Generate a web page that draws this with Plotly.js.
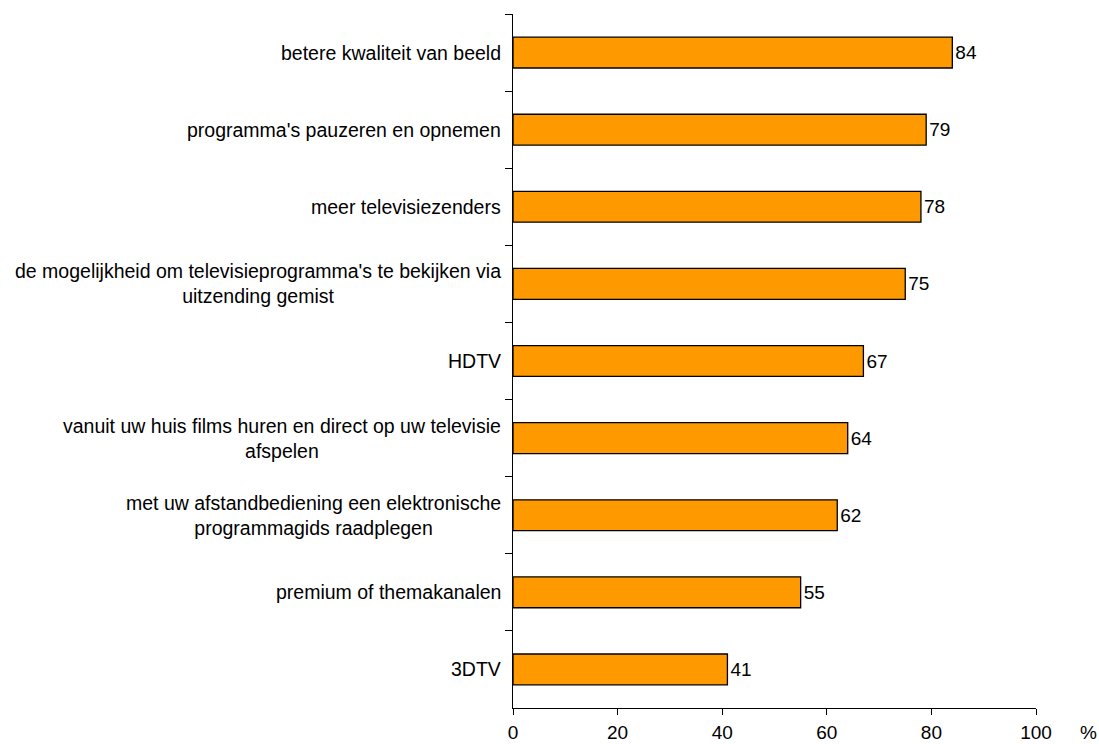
<!DOCTYPE html>
<html><head><meta charset="utf-8">
<script src="https://cdn.plot.ly/plotly-3.0.1.min.js"></script>
<style>html,body{margin:0;padding:0;background:#fff;}#chart{width:1099px;height:744px;}</style>
</head><body><div id="chart"></div>
<script>
const categories = [
  "betere kwaliteit van beeld",
  "programma's pauzeren en opnemen",
  "meer televisiezenders",
  "de mogelijkheid om televisieprogramma's te bekijken via<br>uitzending gemist",
  "HDTV",
  "vanuit uw huis films huren en direct op uw televisie<br>afspelen",
  "met uw afstandbediening een elektronische<br>programmagids raadplegen",
  "premium of themakanalen",
  "3DTV"
];
const values = [84, 79, 78, 75, 67, 64, 62, 55, 41];
const xTicks = [0, 20, 40, 60, 80, 100];

const font = "Liberation Sans, Arial, sans-serif";
const trace = {
  type: 'bar', orientation: 'h',
  x: values, y: categories,
  width: 0.4,
  marker: {color: '#FF9900', line: {color: '#000', width: 1.3}},
  text: values.map(String), textposition: 'outside', constraintext: 'none',
  textfont: {family: font, size: 19, color: '#000'},
  cliponaxis: false, hoverinfo: 'none'
};
const annotations = categories.map(c => ({
  x: 0, xref: 'x', y: c, yref: 'y', text: c, showarrow: false,
  xanchor: 'right', yanchor: 'middle', align: 'center', xshift: -10,
  font: {family: font, size: 19.5, color: '#000'}
}));
annotations.push({x: 1, xref: 'paper', y: 0, yref: 'paper', text: '%', showarrow: false,
  xanchor: 'left', yanchor: 'top', xshift: 42, yshift: -12,
  font: {family: font, size: 19, color: '#000'}});
const layout = {
  width: 1099, height: 744,
  margin: {l: 513, r: 63, t: 14, b: 36},
  paper_bgcolor: '#fff', plot_bgcolor: '#fff',
  showlegend: false,
  font: {family: font, size: 19, color: '#000'},
  xaxis: {range: [0, 100], tickvals: xTicks, ticktext: xTicks.map(String),
    showgrid: false, zeroline: false, showline: true, linecolor: '#000', linewidth: 1,
    ticks: 'outside', ticklen: 6, tickcolor: '#000', ticklabelstandoff: 1,
    tickfont: {family: font, size: 19}},
  yaxis: {autorange: 'reversed', showticklabels: false, tickson: 'boundaries',
    ticks: 'outside', ticklen: 7, tickcolor: '#000', showgrid: false, zeroline: false,
    showline: true, linecolor: '#000', linewidth: 1},
  annotations: annotations
};
Plotly.newPlot('chart', [trace], layout, {staticPlot: true});
</script></body></html>
